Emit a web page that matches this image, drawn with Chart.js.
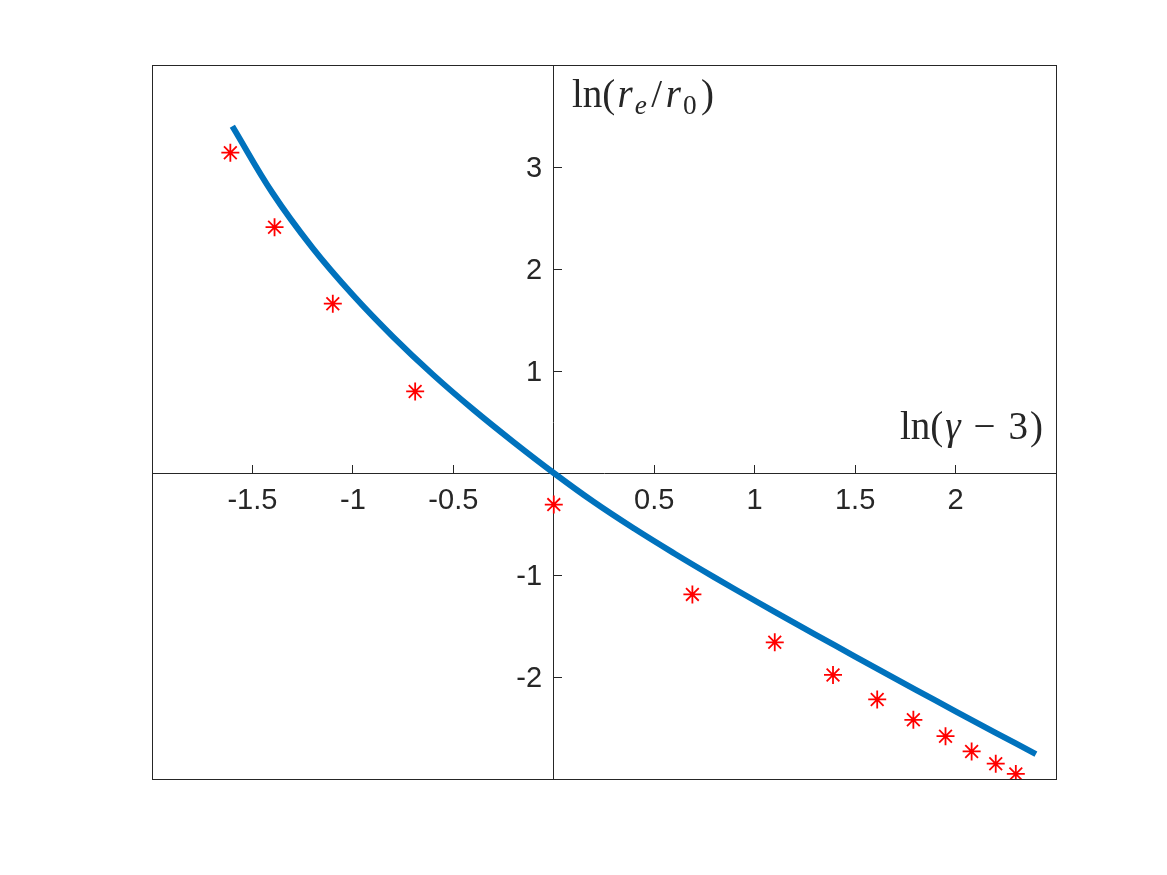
<!DOCTYPE html>
<html>
<head>
<meta charset="utf-8">
<script src="https://cdn.jsdelivr.net/npm/chart.js@4.4.1/dist/chart.umd.min.js"></script>
<style>
  html, body { margin: 0; padding: 0; background: #ffffff; }
  #wrap { width: 1167px; height: 875px; }
</style>
</head>
<body>
<div id="wrap"><canvas id="c" width="1167" height="875"></canvas></div>
<script>
// ---- data ----
const markerX = [-1.61, -1.39, -1.10, -0.69, 0.00, 0.69, 1.10, 1.39, 1.61, 1.79, 1.95, 2.08, 2.20, 2.30];
const markerY = [3.14, 2.41, 1.66, 0.80, -0.31, -1.19, -1.66, -1.98, -2.22, -2.42, -2.58, -2.73, -2.85, -2.95];

const curveX = [-1.6, -1.4, -1.2, -1.0, -0.8, -0.6, -0.4, -0.2, 0.0, 0.2, 0.4, 0.6, 0.8, 1.0, 1.2, 1.4, 1.6, 1.8, 2.0, 2.2, 2.4];
const curveY = [3.40, 2.745, 2.205, 1.745, 1.335, 0.962, 0.621, 0.303, 0.00, -0.285, -0.545, -0.789, -1.023, -1.250, -1.472, -1.691, -1.908, -2.123, -2.336, -2.547, -2.756];

const xTickValues = [-1.5, -1, -0.5, 0.5, 1, 1.5, 2];
const xTickLabels = ['-1.5', '-1', '-0.5', '0.5', '1', '1.5', '2'];
const yTickValues = [-2, -1, 1, 2, 3];
const yTickLabels = ['-2', '-1', '1', '2', '3'];
const xRange = [-2, 2.5];
const yRange = [-3, 4];

const xAxisTitle = [
  { t: 'ln' }, { t: '(', gap: 0 }, { t: 'γ', it: true, gap: 0.3 }, { t: '−', gap: 2 }, { t: '3', gap: 2 }, { t: ')', gap: 0.3 }
];
const yAxisTitle = [
  { t: 'ln' }, { t: '(', gap: 0 }, { t: 'r', it: true, gap: 0.3 }, { t: 'e', it: true, sub: true, gap: 0.3 },
  { t: '/', gap: 0.6 }, { t: 'r', it: true, gap: 0.5 }, { t: '0', sub: true, gap: 0.3 }, { t: ')', gap: 0.6 }
];

// ---- styling ----
const AX = '#262626';
const tickFont = { family: '"Liberation Sans", Arial, Helvetica, sans-serif', size: 29 };

function setTicks(values) {
  return function (scale) { scale.ticks = values.map(v => ({ value: v })); };
}
function labelFrom(values, labels) {
  return function (value) {
    const i = values.indexOf(value);
    return i >= 0 ? labels[i] : '';
  };
}

function drawRich(ctx, segs, left, right, baseline, size) {
  const fam = '"Liberation Serif", "Times New Roman", serif';
  const fontOf = s => (s.it ? 'italic ' : '') + (s.sub ? size * 0.7 : size) + 'px ' + fam;
  const widths = segs.map(s => { ctx.font = fontOf(s); return ctx.measureText(s.t).width; });
  const natural = widths.reduce((a, b) => a + b, 0);
  let units = 0;
  segs.forEach((s, i) => { if (i > 0) units += (s.gap !== undefined ? s.gap : 1); });
  const unit = units > 0 ? (right - left - natural) / units : 0;
  let x = left;
  ctx.save();
  ctx.fillStyle = AX;
  ctx.textBaseline = 'alphabetic';
  ctx.textAlign = 'left';
  segs.forEach((s, i) => {
    if (i > 0) x += unit * (s.gap !== undefined ? s.gap : 1);
    ctx.font = fontOf(s);
    ctx.fillText(s.t, x, baseline + (s.sub ? size * 0.17 : 0));
    x += widths[i];
  });
  ctx.restore();
}

const decor = {
  id: 'decor',
  beforeDraw(chart) {
    const ctx = chart.ctx;
    ctx.save();
    ctx.fillStyle = '#ffffff';
    ctx.fillRect(0, 0, chart.width, chart.height);
    ctx.restore();
  },
  afterDraw(chart) {
    const ctx = chart.ctx;
    const a = chart.chartArea;
    ctx.save();
    ctx.strokeStyle = AX;
    ctx.lineWidth = 1;
    ctx.strokeRect(Math.round(a.left) + 0.5, Math.round(a.top) + 0.5,
                   Math.round(a.right - a.left), Math.round(a.bottom - a.top));
    ctx.restore();
    drawRich(ctx, yAxisTitle, 572, 714, 107, 39);
    drawRich(ctx, xAxisTitle, 900, 1043, 439, 39);
  }
};

new Chart(document.getElementById('c'), {
  type: 'scatter',
  data: {
    datasets: [
      {
        label: 'markers',
        data: markerX.map((x, i) => ({ x: x, y: markerY[i] })),
        showLine: false,
        pointStyle: 'star',
        pointRadius: 9,
        pointBorderWidth: 1.8,
        borderColor: '#ff0000',
        backgroundColor: '#ff0000',
        order: 2
      },
      {
        label: 'fit',
        data: curveX.map((x, i) => ({ x: x, y: curveY[i] })),
        showLine: true,
        pointRadius: 0,
        borderWidth: 6,
        borderColor: '#0072BD',
        backgroundColor: '#0072BD',
        tension: 0.4,
        borderCapStyle: 'butt',
        order: 1
      }
    ]
  },
  options: {
    responsive: false,
    animation: false,
    events: [],
    layout: { padding: { left: 152, top: 65, right: 111, bottom: 96 } },
    plugins: { legend: { display: false }, tooltip: { enabled: false }, title: { display: false } },
    scales: {
      x: {
        type: 'linear', min: xRange[0], max: xRange[1],
        position: { y: 0 },
        afterBuildTicks: setTicks(xTickValues),
        afterFit: s => { s.height = 0; s.paddingLeft = 0; s.paddingRight = 0; },
        grid: { display: true, drawOnChartArea: false, drawTicks: true, tickLength: -9, color: AX, lineWidth: 1 },
        border: { display: true, color: AX, width: 1 },
        ticks: { color: AX, font: tickFont, padding: 20, maxRotation: 0, minRotation: 0, autoSkip: false,
                 callback: labelFrom(xTickValues, xTickLabels) }
      },
      y: {
        type: 'linear', min: yRange[0], max: yRange[1],
        position: { x: 0 },
        afterBuildTicks: setTicks(yTickValues),
        afterFit: s => { s.width = 0; s.paddingTop = 0; s.paddingBottom = 0; },
        grid: { display: true, drawOnChartArea: false, drawTicks: true, tickLength: -9, color: AX, lineWidth: 1 },
        border: { display: true, color: AX, width: 1 },
        ticks: { display: false }
      },
      yl: {
        type: 'linear', min: yRange[0], max: yRange[1],
        position: { x: -0.058 },
        afterBuildTicks: setTicks(yTickValues),
        afterFit: s => { s.width = 0; s.paddingTop = 0; s.paddingBottom = 0; },
        grid: { display: false },
        border: { display: false },
        ticks: { display: true, color: AX, font: tickFont, padding: 0, autoSkip: false, labelOffset: 2,
                 callback: labelFrom(yTickValues, yTickLabels) }
      }
    }
  },
  plugins: [decor]
});
</script>
</body>
</html>
